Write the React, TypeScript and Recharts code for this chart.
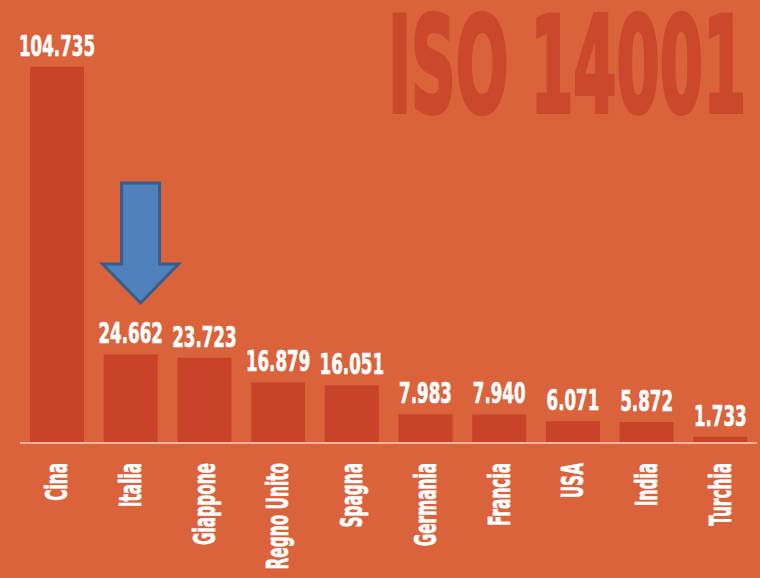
import React from "react";
import { BarChart, Bar, XAxis, YAxis, LabelList, ReferenceDot, Customized } from "recharts";

const countries = ["Cina", "Italia", "Giappone", "Regno Unito", "Spagna", "Germania", "Francia", "USA", "India", "Turchia"];
const certificates = [104735, 24662, 23723, 16879, 16051, 7983, 7940, 6071, 5872, 1733];
const title = "ISO 14001";
const highlighted = "Italia";
const arrowTipValue = 39000;

const data = countries.map((name, i) => ({ name, value: certificates[i] }));

const BG = "#DA633B";
const BAR = "#C8432A";
const TITLE = "#CB482D";
const AXIS = "#F2B298";
const FONT = "'DejaVu Sans Condensed', 'DejaVu Sans', sans-serif";

const fmtDot = (v: number) => String(v).replace(/\B(?=(\d{3})+(?!\d))/g, ".");

const ValueLabel = (props: any) => {
  const { x, y, width, value } = props;
  const cx = Number(x) + Number(width) / 2;
  const ty = Number(y) - 11;
  return (
    <text
      transform={`translate(${cx},${ty}) scale(0.64,1)`}
      textAnchor="middle"
      fill="#FFFFFF"
      stroke="#FFFFFF"
      strokeWidth={0.6}
      fontFamily={FONT}
      fontWeight="bold"
      fontSize={29}
    >
      {fmtDot(Number(value))}
    </text>
  );
};

const CategoryTick = (props: any) => {
  const { x, y, payload } = props;
  return (
    <text
      transform={`translate(${x},${y}) rotate(-90) scale(0.55,1)`}
      textAnchor="end"
      dominantBaseline="central"
      fill="#FFFFFF"
      stroke="#FFFFFF"
      strokeWidth={0.6}
      fontFamily={FONT}
      fontWeight="bold"
      fontSize={31}
    >
      {payload.value}
    </text>
  );
};

const Arrow = (props: any) => {
  const { cx, cy } = props;
  const x0 = Number(cx) + 10;
  const t = Number(cy);
  const d = `M${x0 - 19},${t - 120} L${x0 + 19},${t - 120} L${x0 + 19},${t - 39} L${x0 + 38},${t - 39} L${x0},${t} L${x0 - 38},${t - 39} L${x0 - 19},${t - 39} Z`;
  return <path d={d} fill="#4F81BD" stroke="#385D8A" strokeWidth={3} strokeLinejoin="miter" />;
};

const Title = () => (
  <text
    transform="translate(388,112) scale(0.515,1)"
    fill={TITLE}
    stroke={TITLE}
    strokeWidth={4}
    fontFamily={FONT}
    fontWeight="bold"
    fontSize={134}
  >
    {title}
  </text>
);

export default function App() {
  return (
    <div style={{ position: "absolute", left: 0, top: 0, width: 760, height: 578, background: BG, overflow: "hidden" }}>
      <BarChart width={760} height={578} data={data} margin={{ top: 12, right: 3, bottom: 0, left: 20 }} barCategoryGap={10}>
        <Customized component={Title} />
        <YAxis hide domain={[0, 120000]} />
        <XAxis
          dataKey="name"
          height={135}
          interval={0}
          tickLine={false}
          tickSize={0}
          tickMargin={20}
          axisLine={{ stroke: AXIS, strokeWidth: 2 }}
          tick={<CategoryTick />}
        />
        <Bar dataKey="value" fill={BAR} isAnimationActive={false}>
          <LabelList dataKey="value" content={<ValueLabel />} />
        </Bar>
        <ReferenceDot x={highlighted} y={arrowTipValue} r={0} shape={<Arrow />} ifOverflow="visible" />
      </BarChart>
    </div>
  );
}
